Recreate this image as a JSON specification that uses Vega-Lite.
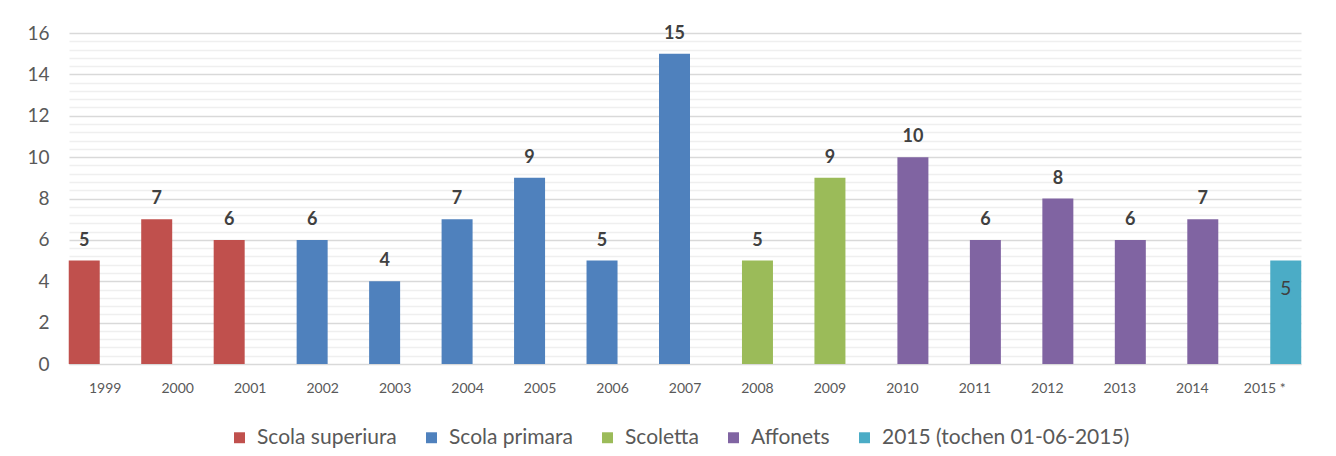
{
  "$schema": "https://vega.github.io/schema/vega-lite/v6.json",
  "width": 1232,
  "height": 331,
  "autosize": {"type": "none"},
  "padding": {"left": 69, "top": 33, "right": 35, "bottom": 92},
  "background": "white",
  "config": {
    "view": {"stroke": null},
    "font": "Lato",
    "axis": {"labelFont": "Lato", "labelColor": "#595959"}
  },
  "data": {
    "values": [
      {"year": "1999", "count": 5, "cat": "Scola superiura"},
      {"year": "2000", "count": 7, "cat": "Scola superiura"},
      {"year": "2001", "count": 6, "cat": "Scola superiura"},
      {"year": "2002", "count": 6, "cat": "Scola primara"},
      {"year": "2003", "count": 4, "cat": "Scola primara"},
      {"year": "2004", "count": 7, "cat": "Scola primara"},
      {"year": "2005", "count": 9, "cat": "Scola primara"},
      {"year": "2006", "count": 5, "cat": "Scola primara"},
      {"year": "2007", "count": 15, "cat": "Scola primara"},
      {"year": "2008", "count": 5, "cat": "Scoletta"},
      {"year": "2009", "count": 9, "cat": "Scoletta"},
      {"year": "2010", "count": 10, "cat": "Affonets"},
      {"year": "2011", "count": 6, "cat": "Affonets"},
      {"year": "2012", "count": 8, "cat": "Affonets"},
      {"year": "2013", "count": 6, "cat": "Affonets"},
      {"year": "2014", "count": 7, "cat": "Affonets"},
      {"year": "2015 *", "count": 5, "cat": "2015 (tochen 01-06-2015)"}
    ]
  },
  "encoding": {
    "x": {
      "field": "year",
      "type": "nominal",
      "sort": null,
      "scale": {"paddingInner": 0, "paddingOuter": 0},
      "axis": {
        "title": null,
        "labelAngle": 0,
        "labelFontSize": 14,
        "labelPadding": 17,
        "ticks": false,
        "domain": true,
        "domainColor": "#d9d9d9",
        "grid": false
      }
    },
    "xOffset": {
      "field": "cat",
      "type": "nominal",
      "scale": {
        "domain": ["Scola superiura", "Scola primara", "Scoletta", "Affonets", "2015 (tochen 01-06-2015)"],
        "paddingInner": 0,
        "paddingOuter": 0.952
      }
    },
    "y": {
      "field": "count",
      "type": "quantitative",
      "scale": {"domain": [0, 16], "nice": false},
      "axis": null
    }
  },
  "layer": [
    {
      "mark": {"type": "rule", "color": "transparent"},
      "encoding": {
        "y": {
          "field": "count",
          "type": "quantitative",
          "axis": {
            "title": null,
            "values": [0.4, 0.8, 1.2, 1.6, 2.4, 2.8, 3.2, 3.6, 4.4, 4.8, 5.2, 5.6, 6.4, 6.8, 7.2, 7.6, 8.4, 8.8, 9.2, 9.6, 10.4, 10.8, 11.2, 11.6, 12.4, 12.8, 13.2, 13.6, 14.4, 14.8, 15.2, 15.6],
            "labels": false,
            "ticks": false,
            "domain": false,
            "grid": true,
            "gridColor": "#efefef",
            "gridWidth": 1.5,
            "orient": "left"
          }
        }
      }
    },
    {
      "mark": {"type": "bar", "width": 31},
      "encoding": {
        "y": {
          "field": "count",
          "type": "quantitative",
          "axis": {
            "title": null,
            "values": [0, 2, 4, 6, 8, 10, 12, 14, 16],
            "labelFontSize": 19,
            "labelPadding": 20,
            "labelColor": "#595959",
            "ticks": false,
            "domain": false,
            "grid": true,
            "gridColor": "#d9d9d9",
            "gridWidth": 1.5,
            "orient": "left"
          }
        },
        "color": {
          "field": "cat",
          "type": "nominal",
          "scale": {
            "domain": ["Scola superiura", "Scola primara", "Scoletta", "Affonets", "2015 (tochen 01-06-2015)"],
            "range": ["#C0504D", "#4F81BD", "#9BBB59", "#8064A2", "#4BACC6"]
          },
          "legend": {
            "title": null,
            "orient": "none",
            "legendX": 160,
            "legendY": 394,
            "direction": "horizontal",
            "symbolType": "square",
            "symbolSize": 120,
            "symbolStrokeWidth": 0,
            "labelFontSize": 21,
            "labelColor": "#595959",
            "labelFont": "Lato",
            "labelOffset": 7,
            "labelLimit": 600,
            "columnPadding": 24
          }
        }
      }
    },
    {
      "transform": [{"filter": "datum.cat != '2015 (tochen 01-06-2015)'"}],
      "mark": {"type": "text", "baseline": "bottom", "dy": -11, "fontSize": 18, "fontWeight": "bold", "color": "#404040"},
      "encoding": {"text": {"field": "count", "type": "quantitative"}}
    },
    {
      "transform": [{"filter": "datum.cat == '2015 (tochen 01-06-2015)'"}],
      "mark": {"type": "text", "baseline": "middle", "dy": 28, "fontSize": 19, "color": "#404040"},
      "encoding": {"text": {"field": "count", "type": "quantitative"}}
    }
  ],
  "resolve": {"axis": {"y": "independent"}}
}
